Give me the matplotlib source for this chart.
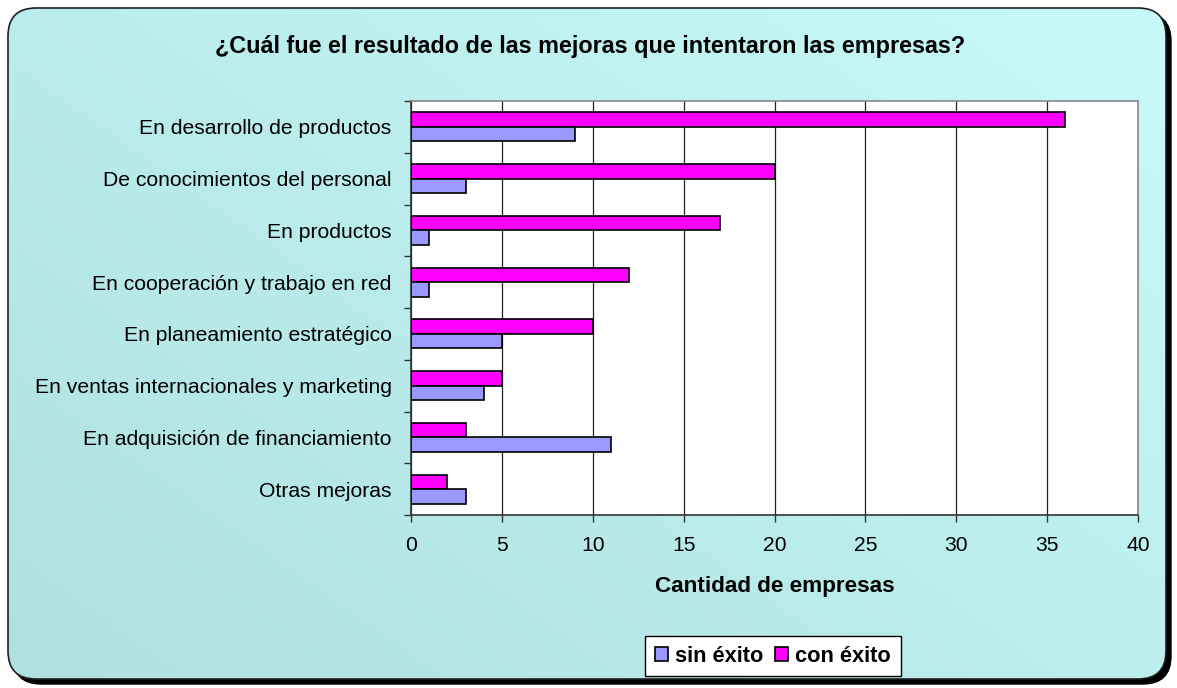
import numpy as np
import matplotlib
matplotlib.use("Agg")
import matplotlib.pyplot as plt
from matplotlib.patches import FancyBboxPatch, Patch

plt.rcParams['font.family'] = ['Liberation Sans', 'DejaVu Sans']

categories = [
    "En desarrollo de productos",
    "De conocimientos del personal",
    "En productos",
    "En cooperación y trabajo en red",
    "En planeamiento estratégico",
    "En ventas internacionales y marketing",
    "En adquisición de financiamiento",
    "Otras mejoras",
]
con_exito = [36, 20, 17, 12, 10, 5, 3, 2]
sin_exito = [9, 3, 1, 1, 5, 4, 11, 3]
x_ticks = [0, 5, 10, 15, 20, 25, 30, 35, 40]

W, H = 1177, 688
fig = plt.figure(figsize=(W / 100, H / 100), dpi=100)
fig.patch.set_facecolor('white')

# background frame
bg = fig.add_axes([0, 0, 1, 1], zorder=0)
bg.set_xlim(0, W)
bg.set_ylim(H, 0)
bg.axis('off')
x0, y0, x1, y1 = 8, 8, 1166, 679
r = 28
shadow = FancyBboxPatch((x0 + 5, y0 + 5), x1 - x0, y1 - y0,
                        boxstyle=f"round,pad=0,rounding_size={r}",
                        facecolor='black', edgecolor='black', lw=1)
bg.add_patch(shadow)
frame = FancyBboxPatch((x0, y0), x1 - x0, y1 - y0,
                       boxstyle=f"round,pad=0,rounding_size={r}",
                       facecolor='none', edgecolor='#202020', lw=1.2)
yy, xx = np.mgrid[0:1:200j, 0:1:200j]
t = np.clip(0.55 * xx + 0.45 * (1 - yy), 0, 1)  # top-right lighter
c_dark = np.array([0xB0, 0xE0, 0xE0]) / 255
c_light = np.array([0xC8, 0xFA, 0xFA]) / 255
img = c_dark[None, None, :] * (1 - t[..., None]) + c_light[None, None, :] * t[..., None]
im = bg.imshow(img, extent=(x0, x1, y1, y0), origin='upper', aspect='auto', zorder=1)
bg.add_patch(frame)
frame.set_zorder(2)
clip = FancyBboxPatch((x0, y0), x1 - x0, y1 - y0,
                      boxstyle=f"round,pad=0,rounding_size={r}",
                      facecolor='none', edgecolor='none', transform=bg.transData)
bg.add_patch(clip)
im.set_clip_path(clip)

# main axes
left, right = 411 / W, 1138 / W
top, bottom = 1 - 101 / H, 1 - 515 / H
ax = fig.add_axes([left, bottom, right - left, top - bottom], zorder=2)
ax.set_facecolor('white')

y = np.arange(len(categories))
h = 0.28
ax.barh(y - h / 2, con_exito, height=h, color='#FF00FF', edgecolor='black', lw=1.2,
        zorder=3, label='con éxito')
ax.barh(y + h / 2, sin_exito, height=h, color='#9999FF', edgecolor='black', lw=1.2,
        zorder=3, label='sin éxito')

FS = 15.2
ax.set_xlim(0, 40)
ax.set_ylim(len(categories) - 0.5, -0.5)
ax.set_xticks(x_ticks)
ax.set_xticklabels([str(v) for v in x_ticks], fontsize=FS)
ax.set_yticks(y)
ax.set_yticklabels(categories, fontsize=FS)
ax.set_yticks(np.arange(len(categories) + 1) - 0.5, minor=True)
ax.tick_params(axis='y', which='major', length=0, pad=14)
ax.tick_params(axis='y', which='minor', length=5, direction='out', width=1, color='#333333')
ax.tick_params(axis='x', length=5, direction='out', width=1, color='#333333', pad=10)
ax.xaxis.grid(True, color='#222222', lw=0.9, zorder=1)
ax.set_axisbelow(True)
for s in ['top', 'right']:
    ax.spines[s].set_color('#888888')
    ax.spines[s].set_linewidth(1.2)
for s in ['left', 'bottom']:
    ax.spines[s].set_color('#333333')
    ax.spines[s].set_linewidth(1.2)

ax.set_xlabel('Cantidad de empresas', fontsize=16.2, fontweight='bold', labelpad=15)

fig.text(590 / W, 1 - 46 / H, '¿Cuál fue el resultado de las mejoras que intentaron las empresas?',
         ha='center', va='center', fontsize=16.8, fontweight='bold')

handles = [Patch(facecolor='#9999FF', edgecolor='black', lw=1.2, label='sin éxito'),
           Patch(facecolor='#FF00FF', edgecolor='black', lw=1.2, label='con éxito')]
leg = fig.legend(handles=handles, loc='center', bbox_to_anchor=(773 / W, 1 - 656 / H),
                 ncol=2, frameon=True, fancybox=False, framealpha=1, edgecolor='black',
                 prop={'weight': 'bold', 'size': 15.7}, handlelength=0.6, handleheight=0.6,
                 handletextpad=0.35, columnspacing=0.5, borderpad=0.45, borderaxespad=0)
leg.get_frame().set_linewidth(1.0)
leg.set_zorder(5)

fig.savefig('out.png', dpi=100)
